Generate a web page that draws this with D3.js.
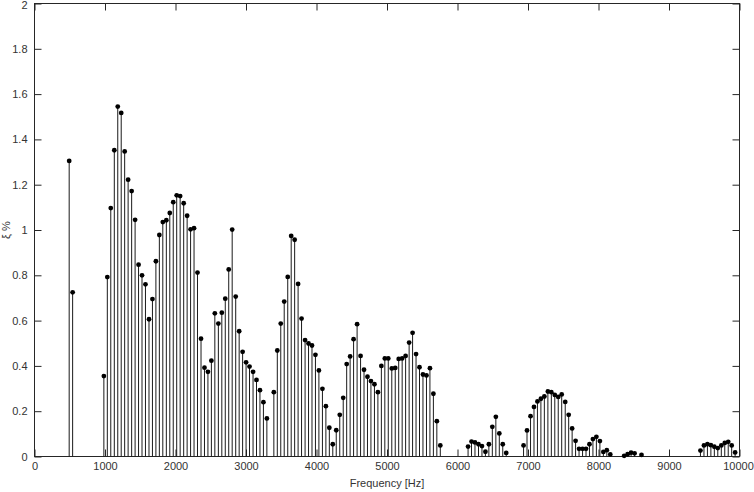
<!DOCTYPE html>
<html>
<head>
<meta charset="utf-8">
<script src="https://cdn.jsdelivr.net/npm/d3@7"></script>
<style>
  body { margin: 0; background: #fff; }
  text { font-family: "Liberation Sans", Arial, sans-serif; }
</style>
</head>
<body>
<div id="chart"></div>
<script>
// frequencies of the stems [Hz]
var freqHz = [
  492, 541,
  984, 1033, 1082, 1132, 1181, 1230, 1279, 1328, 1378, 1427,
  1476, 1525, 1574, 1624, 1673, 1722, 1771, 1820, 1870, 1919,
  1968, 2017, 2066, 2116, 2165, 2214, 2263, 2312, 2362, 2411,
  2460, 2509, 2558, 2608, 2657, 2706, 2755, 2804, 2854, 2903,
  2952, 3001, 3050, 3100, 3149, 3198, 3247, 3296,
  3395, 3444, 3493, 3542, 3592, 3641, 3690, 3739, 3788, 3838,
  3887, 3936, 3985, 4034, 4084, 4133, 4182, 4231, 4280, 4330,
  4379, 4428, 4477, 4526, 4576, 4625, 4674, 4723, 4772, 4822,
  4871, 4920, 4969, 5018, 5068, 5117, 5166, 5215, 5264, 5314,
  5363, 5412, 5461, 5510, 5560, 5609, 5658, 5707, 5756,
  6150, 6199, 6248, 6298, 6347, 6396, 6445, 6494, 6544, 6593, 6642, 6691,
  6937, 6986, 7036, 7085, 7134, 7183, 7232, 7282, 7331, 7380,
  7429, 7478, 7528, 7577, 7626, 7675, 7724, 7774, 7823, 7872,
  7921, 7970, 8020, 8069, 8118, 8167,
  8364, 8413, 8462, 8512, 8610,
  9446, 9496, 9545, 9594, 9643, 9692, 9742, 9791, 9840, 9889, 9938
];

// damping values [%]
var xiPct = [
  1.305, 0.725,
  0.355, 0.792, 1.097, 1.352, 1.545, 1.517, 1.347, 1.222, 1.172, 1.045,
  0.847, 0.800, 0.760, 0.606, 0.695, 0.862, 0.978, 1.035, 1.043, 1.075,
  1.123, 1.153, 1.150, 1.118, 1.063, 1.003, 1.008, 0.812, 0.520, 0.392,
  0.374, 0.423, 0.632, 0.587, 0.635, 0.697, 0.826, 1.002, 0.706, 0.553,
  0.462, 0.416, 0.397, 0.374, 0.338, 0.293, 0.240, 0.168,
  0.284, 0.468, 0.587, 0.684, 0.793, 0.974, 0.957, 0.762, 0.609, 0.514,
  0.499, 0.490, 0.449, 0.380, 0.299, 0.222, 0.127, 0.054, 0.116, 0.184,
  0.259, 0.408, 0.442, 0.518, 0.584, 0.444, 0.383, 0.352, 0.333, 0.319,
  0.284, 0.400, 0.433, 0.433, 0.389, 0.391, 0.431, 0.433, 0.444, 0.503,
  0.546, 0.452, 0.394, 0.362, 0.358, 0.390, 0.277, 0.156, 0.049,
  0.044, 0.066, 0.062, 0.054, 0.046, 0.021, 0.054, 0.131, 0.175, 0.102, 0.054, 0.016,
  0.049, 0.115, 0.178, 0.219, 0.243, 0.255, 0.265, 0.287, 0.284, 0.272,
  0.263, 0.274, 0.241, 0.184, 0.124, 0.069, 0.034, 0.034, 0.034, 0.054,
  0.077, 0.087, 0.068, 0.020, 0.028, 0.009,
  0.003, 0.010, 0.017, 0.014, 0.007,
  0.026, 0.049, 0.054, 0.050, 0.043, 0.037, 0.049, 0.060, 0.065, 0.049, 0.018
];

var xTicks = [0, 1000, 2000, 3000, 4000, 5000, 6000, 7000, 8000, 9000, 10000];
var yTicks = [0, 0.2, 0.4, 0.6, 0.8, 1, 1.2, 1.4, 1.6, 1.8, 2];

function drawStem() {
    var data = freqHz.map(function(f, i) { return {f: f, v: xiPct[i]}; });

    var W = 754, H = 492;
    var box = {left: 34.5, right: 739.5, top: 3.5, bottom: 456.5};
    var ink = "#262626";

    var svg = d3.select("#chart")
      .append("svg")
        .attr("width", W)
        .attr("height", H);

    var x = d3.scaleLinear().domain([0, 10000]).range([box.left, box.right]);
    var y = d3.scaleLinear().domain([0, 2]).range([box.bottom, box.top]);

    // bottom axis, ticks pointing inwards
    svg.append("g")
        .attr("class", "x-axis")
        .attr("transform", "translate(0," + box.bottom + ")")
        .call(d3.axisBottom(x).tickValues(xTicks).tickSizeInner(-7).tickSizeOuter(0).tickPadding(6)
          .tickFormat(d3.format("d")));

    // top axis, ticks only
    svg.append("g")
        .attr("transform", "translate(0," + box.top + ")")
        .call(d3.axisTop(x).tickValues(xTicks).tickSizeInner(-7).tickSizeOuter(0).tickFormat(""));

    // left axis
    svg.append("g")
        .attr("class", "y-axis")
        .attr("transform", "translate(" + box.left + ",0)")
        .call(d3.axisLeft(y).tickValues(yTicks).tickSizeInner(-7).tickSizeOuter(0).tickPadding(7)
          .tickFormat(function(d) { return String(+d.toFixed(1)); }));

    // right axis, ticks only
    svg.append("g")
        .attr("transform", "translate(" + box.right + ",0)")
        .call(d3.axisRight(y).tickValues(yTicks).tickSizeInner(-7).tickSizeOuter(0).tickFormat(""));

    svg.selectAll(".domain").remove();
    svg.selectAll(".tick line").attr("stroke", ink);
    svg.selectAll(".tick text")
        .attr("fill", "#333")
        .style("font-size", "11px")
        .style("font-family", "'Liberation Sans', Arial, sans-serif");

    // keep the edge labels inside the window
    svg.selectAll(".x-axis .tick text")
        .filter(function(d) { return d === 10000; })
        .attr("dx", -1.5);
    svg.selectAll(".y-axis .tick text")
        .filter(function(d) { return d === 2; })
        .attr("dy", "0.45em");

    // box
    svg.append("rect")
        .attr("x", box.left)
        .attr("y", box.top)
        .attr("width", box.right - box.left)
        .attr("height", box.bottom - box.top)
        .attr("fill", "none")
        .attr("stroke", ink)
        .attr("stroke-width", 1);

    // stems
    svg.append("g")
      .selectAll("line")
      .data(data)
      .enter().append("line")
        .attr("x1", function(d) { return x(d.f); })
        .attr("x2", function(d) { return x(d.f); })
        .attr("y1", y(0))
        .attr("y2", function(d) { return y(d.v); })
        .attr("stroke", "#1a1a1a")
        .attr("stroke-width", 1);

    // markers
    svg.append("g")
      .selectAll("circle")
      .data(data)
      .enter().append("circle")
        .attr("cx", function(d) { return x(d.f); })
        .attr("cy", function(d) { return y(d.v); })
        .attr("r", 2.4)
        .attr("fill", "#000");

    // axis labels
    svg.append("text")
        .attr("x", (box.left + box.right) / 2)
        .attr("y", 487)
        .attr("text-anchor", "middle")
        .attr("fill", "#333")
        .style("font-size", "11px")
        .text("Frequency [Hz]");

    svg.append("text")
        .attr("transform", "translate(10," + ((box.top + box.bottom) / 2) + ") rotate(-90)")
        .attr("text-anchor", "middle")
        .attr("fill", "#333")
        .style("font-size", "11px")
        .text("ξ %");
}

drawStem();
</script>
</body>
</html>
